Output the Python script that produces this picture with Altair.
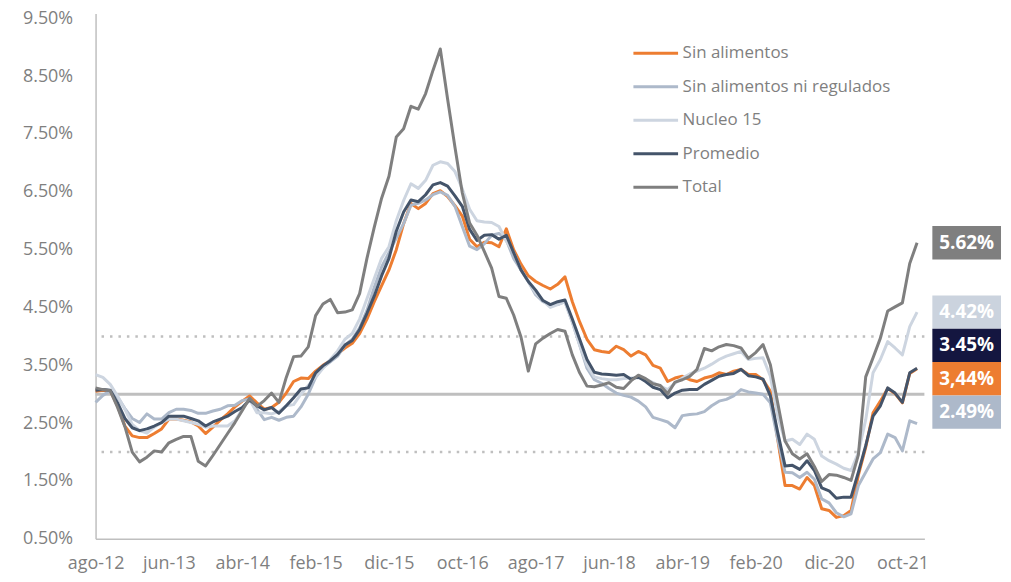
import altair as alt
import pandas as pd

# ---------------- data ----------------
series_names = ["Sin alimentos", "Sin alimentos ni regulados", "Nucleo 15", "Promedio", "Total"]
series_colors = ["#ED7D31", "#ADB9CA", "#CDD5E0", "#44546A", "#7F7F7F"]

tick_labels = ["ago-12", "jun-13", "abr-14", "feb-15", "dic-15", "oct-16",
               "ago-17", "jun-18", "abr-19", "feb-20", "dic-20", "oct-21"]

sin_alimentos = [
    3.05, 3.07, 3.06, 2.80, 2.45, 2.28, 2.25, 2.25, 2.32, 2.40,
    2.57, 2.57, 2.55, 2.52, 2.45, 2.32, 2.43, 2.55, 2.66, 2.78,
    2.88, 2.97, 2.85, 2.74, 2.77, 2.86, 3.02, 3.22, 3.28, 3.27,
    3.40, 3.50, 3.58, 3.70, 3.80, 3.88, 4.05, 4.30, 4.60, 4.88,
    5.15, 5.50, 5.95, 6.30, 6.21, 6.30, 6.47, 6.52, 6.42, 6.26,
    6.08, 5.68, 5.55, 5.63, 5.62, 5.55, 5.86, 5.50, 5.25, 5.05,
    4.95, 4.88, 4.82, 4.90, 5.03, 4.60, 4.25, 3.95, 3.77, 3.74,
    3.72, 3.83, 3.77, 3.66, 3.74, 3.68, 3.50, 3.45, 3.22, 3.28,
    3.31, 3.25, 3.22, 3.28, 3.31, 3.37, 3.34, 3.40, 3.43, 3.34,
    3.34, 3.25, 3.05, 2.22, 1.42, 1.42, 1.36, 1.56, 1.42, 1.02,
    0.99, 0.87, 0.90, 0.99, 1.60, 2.08, 2.68, 2.88, 3.10, 3.01,
    2.85, 3.36, 3.44]

sin_alimentos_ni_regulados = [
    2.86, 2.98, 3.06, 2.95, 2.75, 2.58, 2.51, 2.66, 2.57, 2.57,
    2.68, 2.74, 2.74, 2.72, 2.67, 2.67, 2.71, 2.74, 2.80, 2.81,
    2.89, 2.92, 2.74, 2.56, 2.60, 2.55, 2.60, 2.62, 2.78, 3.00,
    3.29, 3.46, 3.56, 3.66, 3.85, 3.95, 4.15, 4.45, 4.85, 5.20,
    5.45, 5.70, 5.95, 6.27, 6.30, 6.36, 6.45, 6.50, 6.44, 6.25,
    5.90, 5.56, 5.50, 5.60, 5.75, 5.78, 5.67, 5.35, 5.15, 4.95,
    4.72, 4.60, 4.55, 4.55, 4.60, 4.25, 3.85, 3.45, 3.25, 3.19,
    3.10, 3.02, 2.98, 2.95, 2.88, 2.78, 2.60, 2.56, 2.52, 2.42,
    2.63, 2.65, 2.66, 2.70, 2.80, 2.88, 2.91, 2.97, 3.08, 3.04,
    3.02, 3.00, 2.85, 2.22, 1.65, 1.64, 1.56, 1.65, 1.53, 1.19,
    1.12, 0.95, 0.88, 0.93, 1.42, 1.65, 1.88, 1.99, 2.31, 2.25,
    2.02, 2.54, 2.49]

nucleo_15 = [
    3.34, 3.29, 3.17, 2.97, 2.74, 2.48, 2.37, 2.33, 2.43, 2.51,
    2.57, 2.57, 2.54, 2.51, 2.48, 2.43, 2.45, 2.45, 2.45, 2.54,
    2.74, 2.91, 2.68, 2.68, 2.66, 2.70, 2.80, 2.82, 3.00, 3.15,
    3.30, 3.45, 3.60, 3.75, 3.95, 4.05, 4.30, 4.65, 5.00, 5.35,
    5.55, 6.00, 6.35, 6.64, 6.56, 6.70, 6.96, 7.02, 6.99, 6.85,
    6.55, 6.20, 6.00, 5.98, 5.97, 5.90, 5.65, 5.45, 5.15, 4.95,
    4.75, 4.62, 4.50, 4.55, 4.60, 4.25, 3.85, 3.50, 3.30, 3.27,
    3.25, 3.25, 3.27, 3.28, 3.28, 3.26, 3.20, 3.14, 3.08, 3.19,
    3.28, 3.35, 3.40, 3.45, 3.52, 3.60, 3.66, 3.70, 3.74, 3.60,
    3.62, 3.63, 3.31, 2.62, 2.19, 2.22, 2.13, 2.31, 2.22, 1.93,
    1.85, 1.79, 1.72, 1.68, 1.99, 2.56, 3.37, 3.60, 3.91, 3.80,
    3.68, 4.17, 4.42]

promedio = [
    3.07, 3.08, 3.07, 2.85, 2.58, 2.42, 2.37, 2.40, 2.45, 2.51,
    2.62, 2.62, 2.62, 2.58, 2.54, 2.45, 2.52, 2.57, 2.62, 2.70,
    2.77, 2.90, 2.80, 2.73, 2.77, 2.67, 2.80, 2.94, 3.09, 3.11,
    3.37, 3.49, 3.58, 3.69, 3.85, 3.93, 4.12, 4.40, 4.70, 5.05,
    5.35, 5.82, 6.15, 6.36, 6.33, 6.45, 6.62, 6.66, 6.60, 6.43,
    6.25, 5.85, 5.66, 5.75, 5.76, 5.68, 5.75, 5.45, 5.15, 4.95,
    4.80, 4.62, 4.55, 4.60, 4.63, 4.30, 3.95, 3.60, 3.38, 3.35,
    3.34, 3.33, 3.34, 3.26, 3.30, 3.22, 3.12, 3.08, 2.94, 3.02,
    3.07, 3.08, 3.08, 3.17, 3.24, 3.31, 3.34, 3.36, 3.43, 3.32,
    3.30, 3.26, 2.97, 2.34, 1.76, 1.77, 1.70, 1.85, 1.68, 1.38,
    1.33, 1.20, 1.22, 1.22, 1.65, 2.11, 2.62, 2.80, 3.11, 3.02,
    2.86, 3.37, 3.45]

total = [
    3.11, 3.08, 3.06, 2.77, 2.44,
    2.00, 1.83, 1.91, 2.02, 2.00, 2.16, 2.22, 2.27, 2.27, 1.84, 1.76, 1.94,
    2.13, 2.32, 2.51, 2.72, 2.93, 2.79, 2.89, 3.02, 2.86, 3.29, 3.65, 3.66,
    3.82, 4.36, 4.56, 4.64, 4.41, 4.42, 4.46, 4.74, 5.35, 5.89, 6.39, 6.77,
    7.45, 7.59, 7.98, 7.93, 8.20, 8.60, 8.97, 8.10, 7.27, 6.48, 5.96, 5.75,
    5.47, 5.18, 4.69, 4.66, 4.37, 3.99, 3.40, 3.87, 3.97, 4.05, 4.12, 4.09,
    3.68, 3.37, 3.14, 3.13, 3.16, 3.20, 3.12, 3.10, 3.23, 3.33, 3.27, 3.18,
    3.15, 3.01, 3.21, 3.25, 3.31, 3.43, 3.79, 3.75, 3.82, 3.86, 3.84, 3.80,
    3.62, 3.72, 3.86, 3.51, 2.85, 2.19, 1.97, 1.88, 1.97, 1.75, 1.49, 1.61,
    1.60, 1.56, 1.51, 1.95, 3.30, 3.63, 3.97, 4.44, 4.51, 4.58, 5.26, 5.62]

end_labels = ["3,44%", "2.49%", "4.42%", "3.45%", "5.62%"]
box_colors = ["#ED7D31", "#ADB9CA", "#CBD3DE", "#141640", "#7F7F7F"]

target_center = 3.0
target_band = [2.0, 4.0]

# ---------------- frames ----------------
all_series = [sin_alimentos, sin_alimentos_ni_regulados, nucleo_15, promedio, total]
rows = []
for name, vals in zip(series_names, all_series):
    for i, v in enumerate(vals):
        rows.append({"serie": name, "i": i, "v": v})
df = pd.DataFrame(rows)

# plot geometry
TOP_PAD = 4
W, H = 833, 528
Y_MIN, Y_MAX = 0.5, 9.586
X_MAX = 113
ppu = H / (Y_MAX - Y_MIN)

# end-value boxes: dodge overlapping ones by stacking them
box_h = 33.5
ends = sorted(
    [(vals[-1], lab, col) for vals, lab, col in zip(all_series, end_labels, box_colors)],
    key=lambda t: -t[0])
box_rows = []
prev = None
for v, lab, col in ends:
    ideal = (Y_MAX - v) * ppu
    if prev is not None and ideal - prev < 1.8 * box_h:
        pos = prev + box_h
    else:
        pos = ideal
    prev = pos
    mid = Y_MAX - pos / ppu
    half = box_h / 2 / ppu
    box_rows.append({"label": lab, "fill": col, "mid": mid,
                     "top": mid + half, "bottom": mid - half})
box_df = pd.DataFrame(box_rows)

FONT = "Open Sans"
GRAY = "#7F7F7F"
AXIS_GRAY = "#BFBFBF"

yscale = alt.Scale(domain=[Y_MIN, Y_MAX], nice=False, zero=False)
xscale = alt.Scale(domain=[0, X_MAX], nice=False, zero=False)

label_array = "[" + ",".join("'%s'" % t for t in tick_labels) + "]"

x_axis = alt.Axis(
    title=None, values=[10 * k for k in range(len(tick_labels))],
    labelExpr=label_array + "[round(datum.value/10)]",
    grid=False, ticks=False, domainColor=AXIS_GRAY, domainWidth=1.5,
    labelFont=FONT, labelFontSize=18, labelColor=GRAY, labelPadding=16,
    labelFlush=False)
y_axis = alt.Axis(
    title=None, values=[0.5 + k for k in range(10)],
    labelExpr="format(datum.value, '.2f') + '%'",
    grid=False, ticks=False, domainColor=AXIS_GRAY, domainWidth=1.5,
    labelFont=FONT, labelFontSize=18, labelColor=GRAY, labelPadding=23,
    labelFlush=False)

solid = alt.Chart(pd.DataFrame({"v": [target_center]})).mark_rule(
    color=AXIS_GRAY, strokeWidth=3).encode(
    y=alt.Y("v:Q", scale=yscale, axis=y_axis))

dotted = alt.Chart(pd.DataFrame({"v": target_band})).mark_rule(
    color=AXIS_GRAY, strokeWidth=2.5, strokeDash=[2.5, 6]).encode(
    y=alt.Y("v:Q", scale=yscale, axis=y_axis))

lines = alt.Chart(df).mark_line(strokeWidth=3, strokeJoin="round").encode(
    x=alt.X("i:Q", scale=xscale, axis=x_axis),
    y=alt.Y("v:Q", scale=yscale, axis=y_axis),
    color=alt.Color(
        "serie:N",
        scale=alt.Scale(domain=series_names, range=series_colors),
        sort=series_names,
        legend=alt.Legend(
            title=None, orient="none", legendX=545, legendY=22,
            direction="vertical", padding=0,
            symbolType="M-1.36,0H1.36", symbolSize=1089, symbolStrokeWidth=3,
            labelFont=FONT, labelFontSize=17, labelColor=GRAY,
            labelOffset=9, rowPadding=7.7, labelLimit=0)),
)

boxes = alt.Chart(box_df).mark_rect().encode(
    x=alt.value(W + 8), x2=alt.value(W + 77),
    y=alt.Y("top:Q", scale=yscale, axis=y_axis),
    y2="bottom:Q",
    color=alt.Color("fill:N", scale=None, legend=None),
)

box_text = alt.Chart(box_df).mark_text(
    color="white", font=FONT, fontWeight="bold", fontSize=19,
    align="center", baseline="middle").encode(
    x=alt.value(W + 42.5),
    y=alt.Y("mid:Q", scale=yscale, axis=y_axis),
    text="label:N",
)

chart = alt.layer(solid, dotted, lines, boxes, box_text).properties(
    width=W, height=H,
    padding={"left": 88, "top": TOP_PAD, "right": 79, "bottom": 40},
    autosize=alt.AutoSizeParams(type="none"),
).configure_view(stroke=None).resolve_scale(color="independent")

chart.save("out.html", embed_options={"renderer": "svg", "actions": False})
